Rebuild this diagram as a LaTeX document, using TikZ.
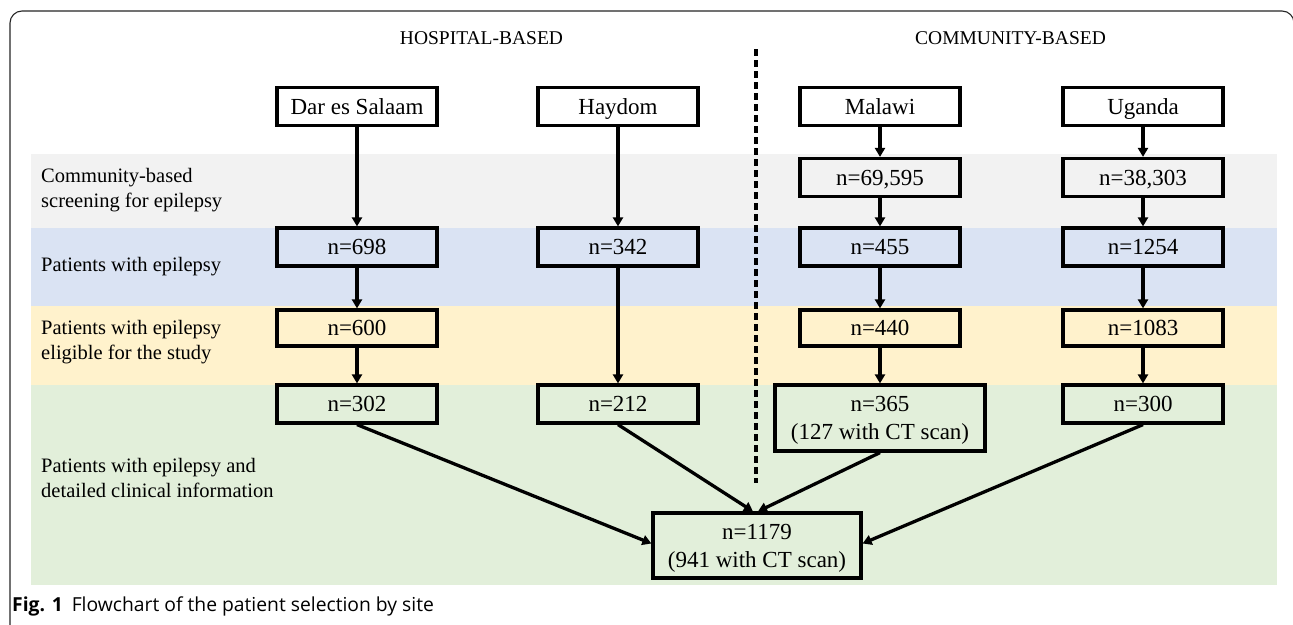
\documentclass[tikz,border=0pt]{standalone}
\usepackage{fontspec}
\setmainfont{Liberation Serif}
\newfontfamily\capfont{Open Sans}
\usetikzlibrary{arrows.meta,calc}
\definecolor{bandgray}{HTML}{F2F2F2}
\definecolor{bandblue}{HTML}{DAE3F3}
\definecolor{bandyellow}{HTML}{FFF2CC}
\definecolor{bandgreen}{HTML}{E2EFDA}
\tikzset{
  stepbox/.style={draw, line width=3.2pt, minimum width=160pt, minimum height=38pt,
    inner sep=0pt, align=center, text height=15.5pt, text depth=0pt,
    font=\rmfamily\fontsize{23}{28}\selectfont},
  twoline/.style={text height=43.5pt, text depth=0pt},
  rowlabel/.style={anchor=west, align=left, inner sep=0pt,
    font=\rmfamily\fontsize{20.5}{25}\selectfont},
  header/.style={inner sep=0pt, font=\rmfamily\fontsize{19.5}{24}\selectfont},
  flow/.style={line width=3.3pt, -{Triangle[length=9pt,width=10pt]}},
}
\begin{document}
\begin{tikzpicture}[x=1pt,y=-1pt]
\useasboundingbox (0,0) rectangle (1293,624);
\fill[white] (0,0) rectangle (1293,624);
% bands
\fill[bandgray]   (31,154) rectangle (1277,228);
\fill[bandblue]   (31,228) rectangle (1277,306);
\fill[bandyellow] (31,306) rectangle (1277,385);
\fill[bandgreen]  (31,385) rectangle (1277,585);
% frame
\draw[line width=1.1pt, black!85, rounded corners=12pt] (10,660) -- (10,11) -- (1294,11) -- (1294,660);
% headers
\node[header] (hosp) at (481.5,38.5) {HOSPITAL-BASED};
\node[header] (comm) at (1010.5,38.5) {COMMUNITY-BASED};
% divider
\coordinate (divtop) at (756,49);
\coordinate (divbot) at (756,483);
\draw[line width=3.2pt, dash pattern=on 7pt off 4pt] (divtop) -- (divbot);
% row labels
\node[rowlabel] (l1) at (41,190) {Community-based\\screening for epilepsy};
\node[rowlabel] (l2) at (41,267) {Patients with epilepsy};
\node[rowlabel] (l3) at (41,342) {Patients with epilepsy\\eligible for the study};
\node[rowlabel] (l4) at (41,478) {Patients with epilepsy and\\detailed clinical information};
% boxes row 0
\node[stepbox] (dar) at (357,106.5) {Dar es Salaam};
\node[stepbox] (hay) at (618,106.5) {Haydom};
\node[stepbox] (mal) at (880,106.5) {Malawi};
\node[stepbox] (uga) at (1143,106.5) {Uganda};
% row 1
\node[stepbox] (mal1) at (880,177.5) {n=69,595};
\node[stepbox] (uga1) at (1143,177.5) {n=38,303};
% row 2
\node[stepbox] (dar2) at (357,247) {n=698};
\node[stepbox] (hay2) at (618,247) {n=342};
\node[stepbox] (mal2) at (880,247) {n=455};
\node[stepbox] (uga2) at (1143,247) {n=1254};
% row 3
\node[stepbox, minimum height=36pt] (dar3) at (357,328) {n=600};
\node[stepbox, minimum height=36pt] (mal3) at (880,328) {n=440};
\node[stepbox, minimum height=36pt] (uga3) at (1143,328) {n=1083};
% row 4
\node[stepbox] (dar4) at (357,404) {n=302};
\node[stepbox] (hay4) at (618,404) {n=212};
\node[stepbox, twoline, minimum width=210pt, minimum height=66pt] (mal4) at (880,418) {n=365\\(127 with CT scan)};
\node[stepbox] (uga4) at (1143,404) {n=300};
% final
\node[stepbox, twoline, minimum width=208pt, minimum height=65pt] (fin) at (757,545.5) {n=1179\\(941 with CT scan)};
% vertical arrows
\draw[flow] (dar) -- (dar2);
\draw[flow] (hay) -- (hay2);
\draw[flow] (mal) -- (mal1);
\draw[flow] (uga) -- (uga1);
\draw[flow] (mal1) -- (mal2);
\draw[flow] (uga1) -- (uga2);
\draw[flow] (dar2) -- (dar3);
\draw[flow] (hay2) -- (hay4);
\draw[flow] (mal2) -- (mal3);
\draw[flow] (uga2) -- (uga3);
\draw[flow] (dar3) -- (dar4);
\draw[flow] (mal3) -- (mal4);
\draw[flow] (uga3) -- (uga4);
% converging arrows
\draw[flow] (dar4.south) -- ($(fin.west)+(0,-2)$);
\draw[flow] (hay4.south) -- ($(fin.north)+(-4,0)$);
\draw[flow] (mal4.south) -- ($(fin.north)+(1,0)$);
\draw[flow] (uga4.south) -- ($(fin.east)+(0,-2)$);
% caption
\node[anchor=west, inner sep=0pt, font=\capfont\fontsize{19.3}{22}\selectfont] (cap) at (12,606)
  {\textbf{Fig. 1}\hspace{9pt}Flowchart of the patient selection by site};
\end{tikzpicture}
\end{document}
